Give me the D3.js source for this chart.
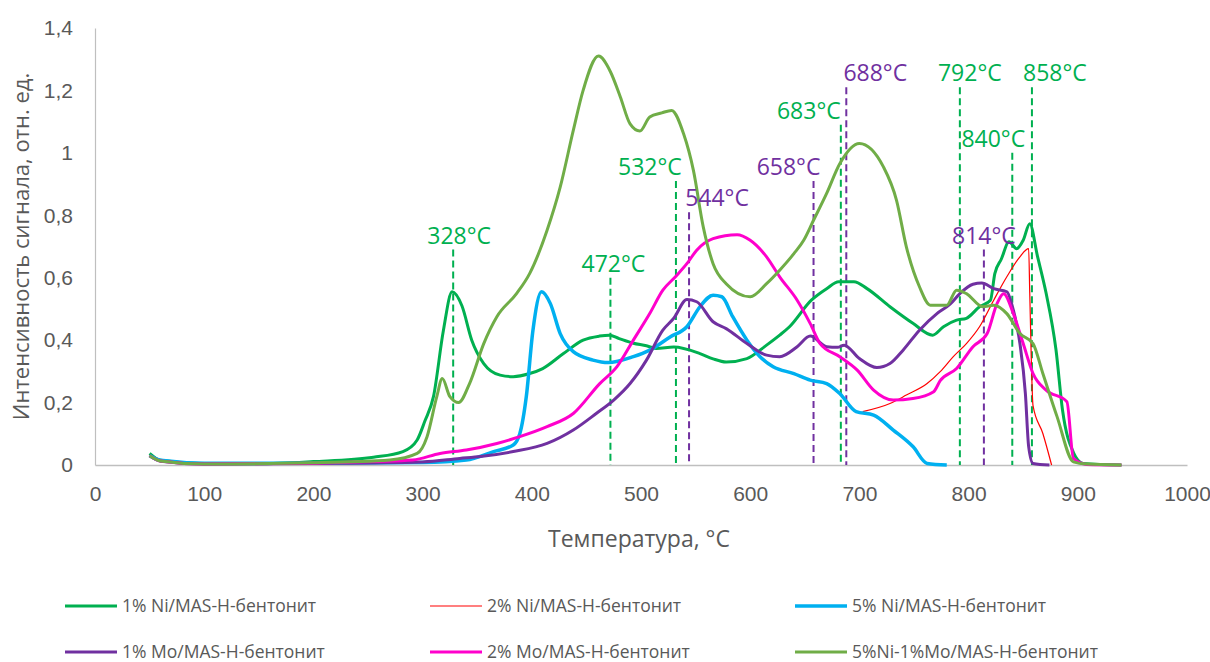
<!doctype html>
<html>
<head>
<meta charset="UTF-8">
<title>ТПВ-H2</title>
<script src="https://cdn.jsdelivr.net/npm/d3@7"></script>
<style>
    body { margin: 0; background: #fff; }
    #chart { font-family: "Open Sans", sans-serif; }
    .axis text { fill: #595959; font-size: 21px; }
    .axis path { stroke: #bfbfbf; }
    .series { fill: none; stroke-linejoin: round; }
    .peak { stroke-width: 2; stroke-dasharray: 7,4; }
</style>
</head>
<body>
<svg id="chart" width="1210" height="662"></svg>
<script>
// --- data: [температура, интенсивность] ---
var ni1 = [[50,0.037],[60,0.015],[100,0.004],[150,0.004],[200,0.011],[255,0.025],[282,0.043],[295,0.08],[302,0.14],[310,0.22],[319,0.43],[327,0.555],[336,0.51],[345,0.40],[356,0.325],[371,0.288],[383,0.283],[398,0.293],[410,0.309],[429,0.357],[447,0.40],[462,0.413],[471,0.416],[480,0.405],[493,0.39],[505,0.382],[514,0.373],[530,0.378],[554,0.357],[566,0.34],[578,0.33],[597,0.341],[615,0.384],[627,0.416],[636,0.443],[656,0.528],[670,0.565],[681,0.587],[695,0.587],[707,0.565],[728,0.507],[749,0.454],[767,0.416],[777,0.443],[789,0.464],[798,0.47],[810,0.507],[820,0.528],[824,0.613],[830,0.66],[837,0.715],[844,0.693],[850,0.72],[856,0.773],[863,0.67],[871,0.55],[880,0.37],[886,0.176],[896,0.04],[905,0.005],[940,0]];
var ni2 = [[703,0.171],[728,0.197],[743,0.224],[762,0.261],[774,0.299],[786,0.347],[798,0.389],[810,0.443],[823,0.528],[835,0.603],[847,0.667],[855,0.693],[856,0.55],[859,0.19],[868,0.101],[876,0]];
var ni5 = [[50,0.03],[60,0.015],[100,0.006],[200,0.006],[300,0.008],[340,0.016],[365,0.043],[383,0.064],[389,0.10],[395,0.22],[401,0.43],[409,0.555],[417,0.517],[426,0.421],[438,0.363],[456,0.336],[470,0.328],[493,0.347],[508,0.368],[527,0.411],[542,0.443],[554,0.507],[566,0.544],[574,0.539],[584,0.475],[597,0.40],[609,0.347],[621,0.315],[640,0.293],[655,0.272],[670,0.261],[682,0.229],[697,0.171],[713,0.16],[731,0.112],[749,0.059],[762,0.005],[780,0]];
var mo1 = [[50,0.03],[60,0.012],[100,0.003],[200,0.005],[300,0.01],[334,0.021],[353,0.027],[383,0.043],[414,0.069],[438,0.112],[459,0.165],[475,0.208],[490,0.261],[505,0.336],[520,0.432],[530,0.47],[542,0.53],[551,0.523],[566,0.459],[578,0.437],[597,0.389],[615,0.352],[627,0.347],[643,0.379],[655,0.413],[670,0.379],[680,0.377],[686,0.384],[700,0.341],[716,0.312],[728,0.325],[740,0.368],[755,0.432],[771,0.485],[783,0.515],[792,0.549],[804,0.579],[812,0.583],[823,0.565],[835,0.555],[841,0.496],[847,0.389],[852,0.229],[855,0.059],[859,0.005],[874,0]];
var mo2 = [[50,0.03],[60,0.013],[100,0.003],[200,0.006],[255,0.011],[291,0.016],[316,0.037],[340,0.048],[368,0.069],[389,0.091],[414,0.123],[438,0.165],[462,0.26],[478,0.315],[493,0.40],[508,0.485],[520,0.56],[532,0.605],[542,0.645],[551,0.688],[566,0.725],[588,0.738],[600,0.72],[615,0.667],[627,0.603],[643,0.528],[655,0.453],[664,0.389],[682,0.347],[698,0.304],[713,0.24],[731,0.208],[749,0.213],[768,0.235],[774,0.27],[789,0.309],[804,0.379],[817,0.421],[826,0.517],[832,0.549],[841,0.485],[850,0.389],[859,0.293],[871,0.24],[890,0.203],[896,0.021],[908,0.002],[940,0]];
var mix = [[50,0.03],[60,0.013],[100,0.003],[200,0.007],[270,0.016],[295,0.037],[304,0.09],[313,0.219],[318,0.277],[325,0.219],[333,0.2],[343,0.261],[356,0.389],[368,0.475],[386,0.549],[398,0.613],[414,0.752],[426,0.89],[438,1.072],[447,1.2],[461,1.31],[472,1.26],[481,1.18],[490,1.093],[499,1.07],[508,1.115],[519,1.128],[528,1.136],[539,1.061],[548,0.944],[557,0.763],[566,0.645],[578,0.581],[600,0.539],[615,0.581],[627,0.624],[640,0.677],[649,0.72],[658,0.784],[670,0.87],[682,0.965],[700,1.03],[722,0.955],[734,0.848],[743,0.699],[755,0.571],[765,0.512],[780,0.512],[789,0.56],[798,0.549],[813,0.507],[823,0.512],[835,0.485],[847,0.421],[859,0.389],[868,0.293],[881,0.155],[896,0.01],[908,0.003],[940,0]];

var seriesNames = ["1% Ni/MAS-H-бентонит", "2% Ni/MAS-H-бентонит", "5% Ni/MAS-H-бентонит",
                   "1% Mo/MAS-H-бентонит", "2% Mo/MAS-H-бентонит", "5%Ni-1%Mo/MAS-H-бентонит"];
var seriesData = [ni1, ni2, ni5, mo1, mo2, mix];
var seriesColors = ["#00b050", "#ff0000", "#00b0f0", "#7030a0", "#ff00cc", "#70ad47"];
var seriesWidths = [3, 1.2, 3.5, 3, 3, 3];

// пики (пунктирные линии)
var peakTemps = [328, 472, 532, 683, 792, 840, 858, 544, 658, 688, 814];
var peakTops  = [0.69, 0.60, 0.91, 1.09, 1.21, 1.00, 1.21, 0.81, 0.91, 1.21, 0.69];
var peakColor = ["#00b050","#00b050","#00b050","#00b050","#00b050","#00b050","#00b050","#7030a0","#7030a0","#7030a0","#7030a0"];
var peakShift = [6, 3, -26, -32, 10, -19, 23, 28, -25, 29, 0]; //сдвиг подписи, px

var xTicks = [0,100,200,300,400,500,600,700,800,900,1000];
var yTicks = [0,0.2,0.4,0.6,0.8,1,1.2,1.4];

var svg = d3.select("#chart"),
    margin = {left: 95, right: 23, top: 28, bottom: 197},
    width = +svg.attr("width") - margin.left - margin.right,
    height = +svg.attr("height") - margin.top - margin.bottom;

var x = d3.scaleLinear().domain([0, 1000]).range([0, width]);
var y = d3.scaleLinear().domain([0, 1.4]).range([height, 0]);

var g = svg.append("g").attr("transform", "translate(" + margin.left + "," + margin.top + ")");

var fmt = function(d) { return String(d).replace(".", ","); };

g.append("g").attr("class", "axis")
    .attr("transform", "translate(0," + height + ")")
    .call(d3.axisBottom(x).tickValues(xTicks).tickFormat(fmt).tickSize(0).tickPadding(21))
    .select(".domain").attr("stroke-width", 1.5);

g.append("g").attr("class", "axis")
    .call(d3.axisLeft(y).tickValues(yTicks).tickFormat(fmt).tickSize(0).tickPadding(22))
    .select(".domain").attr("stroke-width", 1.2);

// пунктирные линии пиков
g.selectAll(".peak")
    .data(peakTemps)
    .enter()
    .append("line")
    .attr("class", "peak")
    .attr("x1", function(d) { return x(d); })
    .attr("x2", function(d) { return x(d); })
    .attr("y1", function(d, i) { return y(peakTops[i]); })
    .attr("y2", y(0))
    .attr("stroke", function(d, i) { return peakColor[i]; });

var line = d3.line()
    .x(function(d) { return x(d[0]); })
    .y(function(d) { return y(d[1]); })
    .curve(d3.curveMonotoneX);

g.selectAll(".series")
    .data(seriesData)
    .enter()
    .append("path")
    .attr("class", "series")
    .attr("d", line)
    .attr("stroke", function(d, i) { return seriesColors[i]; })
    .attr("stroke-width", function(d, i) { return seriesWidths[i]; });

// подписи пиков
g.selectAll(".peakLabel")
    .data(peakTemps)
    .enter()
    .append("text")
    .attr("class", "peakLabel")
    .attr("x", function(d, i) { return x(d) + peakShift[i]; })
    .attr("y", function(d, i) { return y(peakTops[i]) - 6; })
    .attr("text-anchor", "middle")
    .attr("fill", function(d, i) { return peakColor[i]; })
    .style("font-size", "23px")
    .text(function(d) { return d + "°C"; });

// подписи осей
svg.append("text")
    .attr("transform", "translate(29," + (margin.top + height / 2) + ") rotate(-90)")
    .attr("text-anchor", "middle")
    .attr("fill", "#595959")
    .style("font-size", "22px")
    .text("Интенсивность сигнала, отн. ед.");

svg.append("text")
    .attr("x", margin.left + width / 2 - 2)
    .attr("y", 547)
    .attr("text-anchor", "middle")
    .attr("fill", "#595959")
    .style("font-size", "23px")
    .text("Температура, °C");

// легенда
var legX = [65, 430, 795], legY = [606, 652];
var leg = svg.selectAll(".leg")
    .data(seriesNames)
    .enter()
    .append("g")
    .attr("class", "leg")
    .attr("transform", function(d, i) { return "translate(" + legX[i % 3] + "," + legY[Math.floor(i / 3)] + ")"; });

leg.append("line")
    .attr("x1", 0).attr("x2", 52)
    .attr("stroke", function(d, i) { return seriesColors[i]; })
    .attr("stroke-width", function(d, i) { return seriesWidths[i]; });

leg.append("text")
    .attr("x", 57)
    .attr("dy", "0.35em")
    .attr("fill", "#595959")
    .style("font-size", "17.5px")
    .text(function(d) { return d; });
</script>
</body>
</html>
